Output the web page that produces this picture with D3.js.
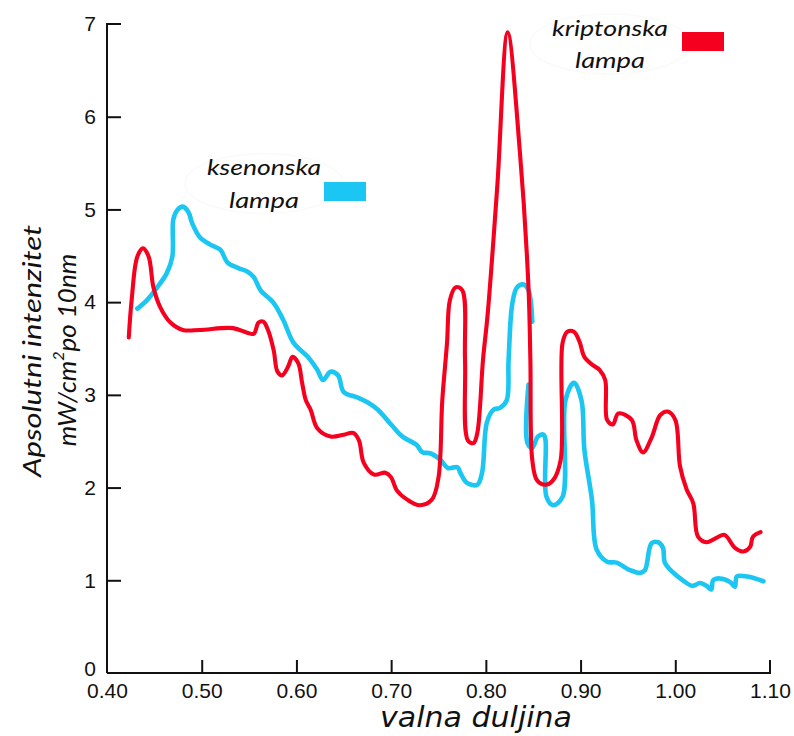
<!DOCTYPE html>
<html><head><meta charset="utf-8">
<script src="https://cdn.jsdelivr.net/npm/d3@7/dist/d3.min.js"></script>
<style>body{margin:0;background:#fff}svg{display:block}</style>
</head><body>
<svg id="chart" width="794" height="736"></svg>
<script>
const xTicks = [0.40,0.50,0.60,0.70,0.80,0.90,1.00,1.10];
const yTicks = [0,1,2,3,4,5,6,7];

const kriptonX = [0.423,0.426,0.432,0.438,0.444,0.449,0.456,0.467,0.480,0.498,0.533,0.548,0.555,0.560,0.565,0.570,0.576,0.580,0.585,0.591,0.596,0.602,0.606,0.610,0.615,0.622,0.636,0.650,0.660,0.666,0.671,0.682,0.694,0.700,0.706,0.717,0.730,0.743,0.750,0.754,0.759,0.762,0.768,0.775,0.778,0.781,0.787,0.791,0.797,0.802,0.812,0.823,0.836,0.845,0.847,0.849,0.854,0.863,0.871,0.879,0.881,0.886,0.893,0.899,0.904,0.913,0.920,0.926,0.928,0.934,0.940,0.954,0.959,0.966,0.975,0.984,0.992,1.000,1.005,1.012,1.019,1.024,1.033,1.044,1.052,1.063,1.072,1.079,1.082,1.090];
const kriptonY = [3.62,4.02,4.49,4.58,4.49,4.16,3.95,3.78,3.70,3.70,3.72,3.67,3.66,3.78,3.79,3.70,3.48,3.25,3.21,3.30,3.41,3.34,3.13,2.94,2.84,2.64,2.55,2.57,2.59,2.51,2.27,2.14,2.16,2.11,1.97,1.87,1.81,1.87,2.11,2.94,3.56,4.02,4.16,4.13,3.38,2.51,2.48,2.59,3.38,3.88,5.24,6.91,5.61,4.16,3.38,2.30,2.08,2.03,2.08,2.30,3.56,3.68,3.68,3.57,3.41,3.32,3.27,3.16,2.73,2.68,2.80,2.73,2.51,2.38,2.54,2.78,2.82,2.73,2.23,1.98,1.83,1.47,1.41,1.46,1.49,1.35,1.31,1.36,1.47,1.52];

const ksenonX = [0.432,0.442,0.453,0.463,0.469,0.470,0.474,0.480,0.486,0.490,0.498,0.509,0.520,0.527,0.538,0.548,0.555,0.562,0.576,0.586,0.597,0.612,0.622,0.628,0.636,0.644,0.650,0.665,0.675,0.686,0.700,0.712,0.727,0.733,0.741,0.752,0.760,0.770,0.773,0.780,0.791,0.796,0.801,0.808,0.815,0.822,0.824,0.828,0.833,0.840,0.845,0.849,null,0.845,0.844,0.849,0.855,0.861,0.863,0.864,0.871,0.881,0.884,0.893,0.901,0.904,0.912,0.917,0.928,0.938,0.952,0.963,0.968,0.975,0.982,0.987,0.989,0.997,1.008,1.018,1.026,1.033,1.038,1.040,1.047,1.058,1.063,1.065,1.076,1.093];
const ksenonY = [3.93,4.02,4.16,4.31,4.49,4.89,4.99,5.03,4.97,4.85,4.70,4.62,4.56,4.43,4.37,4.33,4.27,4.13,3.99,3.81,3.56,3.41,3.27,3.16,3.25,3.21,3.03,2.97,2.92,2.84,2.68,2.55,2.46,2.38,2.37,2.30,2.21,2.22,2.16,2.05,2.03,2.16,2.70,2.84,2.86,2.94,3.38,3.99,4.16,4.19,4.13,3.79,null,3.11,2.48,2.43,2.55,2.57,2.51,1.90,1.81,1.90,2.94,3.13,2.94,2.41,1.87,1.33,1.20,1.19,1.11,1.08,1.11,1.40,1.41,1.35,1.19,1.09,1.00,0.94,0.97,0.94,0.90,1.00,1.02,0.98,0.93,1.04,1.04,0.99];

const colors = {ksenon:"#1bc6f2", kripton:"#f5001e"};

const svg = d3.select("#chart");
const x = d3.scaleLinear().domain([0.40,1.10]).range([107,770]);
const y = d3.scaleLinear().domain([0,7]).range([673,24]);

const tickFont = "'Liberation Sans',Arial,sans-serif";

// axes
const xAxis = d3.axisBottom(x).tickValues(xTicks).tickSize(-13).tickPadding(10).tickFormat(d3.format(".2f"));
const gx = svg.append("g").attr("transform","translate(0,673)").call(xAxis);
gx.select(".domain").attr("d","M107,0H770V-13").attr("stroke","#111").attr("stroke-width",2);
gx.selectAll(".tick line").attr("stroke","#111").attr("stroke-width",2);
gx.selectAll(".tick").filter(d=>d===0.40||d===1.10).select("line").remove();
gx.selectAll("text").attr("font-family",tickFont).attr("font-size",21).attr("fill","#111");

const yAxis = d3.axisLeft(y).tickValues(yTicks).tickSize(-14).tickPadding(11).tickFormat(d3.format("d"));
const gy = svg.append("g").attr("transform","translate(107,0)").call(yAxis);
gy.select(".domain").attr("d","M14,24H0V673").attr("stroke","#111").attr("stroke-width",2);
gy.selectAll(".tick line").attr("stroke","#111").attr("stroke-width",2);
gy.selectAll(".tick").filter(d=>d===0||d===7).select("line").remove();
gy.selectAll("text").attr("font-family",tickFont).attr("font-size",21).attr("fill","#111");
gy.selectAll(".tick").filter(d=>d===0).select("text").attr("dy","0.1em");

// lines
function pts(xs, ys){ return xs.map((v,i)=>[v, ys[i]]); }
const line = d3.line()
  .defined(d => d[0] !== null && d[1] !== null)
  .x(d => x(d[0])).y(d => y(d[1]))
  .curve(d3.curveCatmullRom.alpha(0.5));

svg.append("path").datum(pts(ksenonX, ksenonY)).attr("d", line)
  .attr("fill","none").attr("stroke",colors.ksenon).attr("stroke-width",4.6)
  .attr("stroke-linejoin","round").attr("stroke-linecap","round");
svg.append("path").datum(pts(kriptonX, kriptonY)).attr("d", line)
  .attr("fill","none").attr("stroke",colors.kripton).attr("stroke-width",4.1)
  .attr("stroke-linejoin","round").attr("stroke-linecap","round");

// legends
const italicFont = "Lato, 'Open Sans', sans-serif";
function legend(cx, y1, y2, w1, w2, word1, word2, rect, col){
  svg.append("ellipse").attr("cx",cx).attr("cy",(y1+y2)/2-8).attr("rx",w1/2+22).attr("ry",30)
    .attr("fill","none").attr("stroke","#fafafa").attr("stroke-width",1.5);
  svg.append("text").attr("x",cx).attr("y",y1).attr("text-anchor","middle")
    .attr("font-family",italicFont).attr("font-style","italic").attr("font-size",22).attr("fill","#111")
    .attr("textLength",w1).attr("lengthAdjust","spacingAndGlyphs").text(word1);
  svg.append("text").attr("x",cx).attr("y",y2).attr("text-anchor","middle")
    .attr("font-family",italicFont).attr("font-style","italic").attr("font-size",22).attr("fill","#111")
    .attr("textLength",w2).attr("lengthAdjust","spacingAndGlyphs").text(word2);
  svg.append("rect").attr("x",rect[0]).attr("y",rect[1]).attr("width",rect[2]).attr("height",rect[3]).attr("fill",col);
}
legend(264,175,208,114,70,"ksenonska","lampa",[324,182,42,19],colors.ksenon);
legend(610,36,68,116,70,"kriptonska","lampa",[682,32,42,19],colors.kripton);

// axis titles
svg.append("text").attr("transform","translate(41,351) rotate(-90)").attr("text-anchor","middle")
  .attr("font-family",italicFont).attr("font-style","italic").attr("font-size",26).attr("fill","#111")
  .attr("textLength",252).attr("lengthAdjust","spacingAndGlyphs").text("Apsolutni intenzitet");
const t2 = svg.append("text").attr("transform","translate(76,350) rotate(-90)").attr("text-anchor","middle")
  .attr("font-family",italicFont).attr("font-style","italic").attr("font-size",26).attr("fill","#111");
t2.append("tspan").text("mW/cm");
t2.append("tspan").attr("dy",-12).attr("font-size",16).text("2");
t2.append("tspan").attr("dy",12).text("po 10nm");

svg.append("text").attr("x",476).attr("y",727).attr("text-anchor","middle")
  .attr("font-family","'DejaVu Sans', sans-serif").attr("font-style","italic").attr("font-size",28).attr("fill","#111")
  .attr("textLength",192).attr("lengthAdjust","spacingAndGlyphs").text("valna duljina");
</script>
</body></html>
